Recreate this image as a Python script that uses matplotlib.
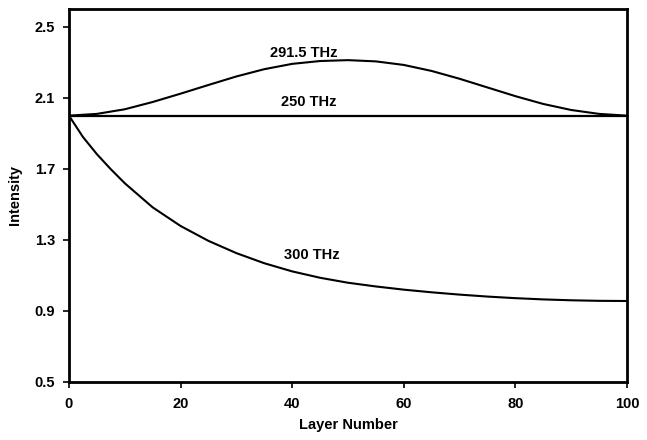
import numpy as np
import matplotlib.pyplot as plt

plt.rcParams["font.family"] = ["Liberation Sans", "DejaVu Sans"]
plt.rcParams["font.weight"] = "bold"

# values
layers = [0, 5, 10, 15, 20, 25, 30, 35, 40, 45, 50,
          55, 60, 65, 70, 75, 80, 85, 90, 95, 100]
i_2915 = [2.000, 2.010, 2.036, 2.077, 2.124, 2.173, 2.221, 2.262, 2.292, 2.308, 2.313,
          2.306, 2.286, 2.252, 2.208, 2.159, 2.110, 2.066, 2.032, 2.010, 2.000]
i_250 = [2.0] * len(layers)

layers_300 = [0, 2.5, 5, 7.5, 10, 15, 20, 25, 30, 35, 40, 45, 50,
              55, 60, 65, 70, 75, 80, 85, 90, 95, 100]
i_300 = [2.000, 1.880, 1.783, 1.698, 1.619, 1.483, 1.378, 1.294, 1.225, 1.168, 1.122,
         1.086, 1.058, 1.037, 1.019, 1.004, 0.991, 0.980, 0.971, 0.964, 0.959, 0.956, 0.955]

series_labels = ["291.5 THz", "250 THz", "300 THz"]
label_pos = [(42, 2.355), (43, 2.078), (43.6, 1.214)]

xticks = [0, 20, 40, 60, 80, 100]
yticks = [0.5, 0.9, 1.3, 1.7, 2.1, 2.5]

fig = plt.figure(figsize=(6.47, 4.40), dpi=100)
ax = fig.add_axes([0.1066, 0.1325, 0.8624, 0.8465])

ax.plot(layers, i_2915, color="black", lw=1.5)
ax.plot(layers, i_250, color="black", lw=1.6)
ax.plot(layers_300, i_300, color="black", lw=1.5)

for txt, (x, y) in zip(series_labels, label_pos):
    ax.text(x, y, txt, ha="center", va="center", fontsize=10.5, fontweight="bold")

ax.set_xlim(0, 100)
ax.set_ylim(0.5, 2.6)
ax.set_xticks(xticks)
ax.set_yticks(yticks)
ax.set_yticklabels([f"{v:.1f}" for v in yticks])
ax.tick_params(axis="both", direction="out", length=4, width=1.2,
               labelsize=10.5, top=False, right=False)
for lab in ax.get_xticklabels() + ax.get_yticklabels():
    lab.set_fontweight("bold")
ax.tick_params(axis="x", pad=7)
ax.tick_params(axis="y", pad=6)
for s in ax.spines.values():
    s.set_linewidth(2)

ax.set_xlabel("Layer Number", fontsize=10.5, fontweight="bold", labelpad=5)
ax.set_ylabel("Intensity", fontsize=10.5, fontweight="bold", labelpad=9)

fig.savefig("out.png", dpi=100)
